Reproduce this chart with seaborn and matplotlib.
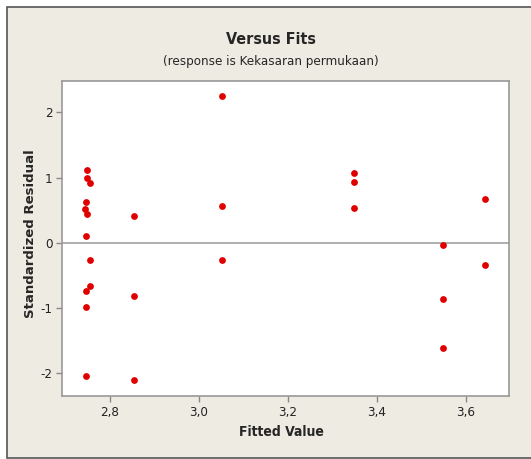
import matplotlib
matplotlib.use("Agg")
import matplotlib.pyplot as plt
import seaborn as sns
import pandas as pd
from matplotlib.patches import Rectangle
from matplotlib.ticker import FuncFormatter

# ---------------------------------------------------
# DATA
# ---------------------------------------------------

fitted = [
    2.749, 2.749, 2.757, 2.748, 2.745, 2.749, 2.748, 2.757, 2.757, 2.748, 2.746, 2.746,
    2.855, 2.855, 2.855,
    3.052, 3.052, 3.052,
    3.348, 3.348, 3.348,
    3.549, 3.549, 3.549,
    3.644, 3.644,
]
std_resid = [
    1.11, 0.99, 0.91, 0.63, 0.52, 0.44, 0.10, -0.26, -0.67, -0.74, -0.98, -2.05,
    0.41, -0.81, -2.10,
    2.25, 0.56, -0.26,
    1.07, 0.93, 0.54,
    -0.04, -0.87, -1.61,
    0.67, -0.34,
]
x_ticks = [2.8, 3.0, 3.2, 3.4, 3.6]
y_ticks = [-2, -1, 0, 1, 2]

df = pd.DataFrame({"Fitted Value": fitted, "Standardized Residual": std_resid})

# ---------------------------------------------------
# FIGURE
# ---------------------------------------------------

sns.set_style("white")
plt.rcParams["font.family"] = ["DejaVu Sans"]
plt.rcParams["font.stretch"] = "condensed"

bg = "#eeebe2"
fig = plt.figure(figsize=(5.31, 4.59), dpi=100, facecolor="white")
fig.patches.append(Rectangle((7 / 531, 1 / 459), 1.2, 451 / 459, transform=fig.transFigure,
                             facecolor=bg, edgecolor="#555555", linewidth=1.2, zorder=-5))

ax = fig.add_axes([62 / 531, 1 - 396 / 459, 447 / 531, 315 / 459])
ax.set_facecolor("white")

ax.axhline(0, color="#999999", linewidth=1.1, zorder=1)
sns.scatterplot(data=df, x="Fitted Value", y="Standardized Residual", ax=ax,
                color="#e00000", s=24, edgecolor="#e00000", linewidth=0, zorder=3)

ax.set_xlim(2.693, 3.697)
ax.set_ylim(-2.35, 2.48)
ax.set_xticks(x_ticks)
ax.set_yticks(y_ticks)
ax.xaxis.set_major_formatter(FuncFormatter(lambda v, p: f"{v:.1f}".replace(".", ",")))
ax.yaxis.set_major_formatter(FuncFormatter(lambda v, p: f"{v:g}"))
ax.tick_params(axis="both", direction="out", length=4, width=1, color="#888888",
               labelsize=9.5, pad=3, bottom=True, left=True, labelcolor="#222222")
for s in ax.spines.values():
    s.set_color("#999999")
    s.set_linewidth(1.2)

ax.set_xlabel("Fitted Value", fontsize=10, fontweight="bold", va="center")
ax.xaxis.set_label_coords((281 - 62) / 447, -(432 - 396) / 315)
ax.set_ylabel("Standardized Residual", fontsize=9.5, fontweight="bold", va="center",
              fontstretch="normal")
ax.yaxis.set_label_coords((31 - 62) / 447, (396 - 234) / 315)

fig.text(271 / 531, 1 - 40 / 459, "Versus Fits", ha="center", va="center",
         fontsize=11.5, fontweight="bold")
fig.text(271 / 531, 1 - 61 / 459, "(response is Kekasaran permukaan)", ha="center",
         va="center", fontsize=9.5)

fig.savefig("out.png", dpi=100, facecolor=fig.get_facecolor())
